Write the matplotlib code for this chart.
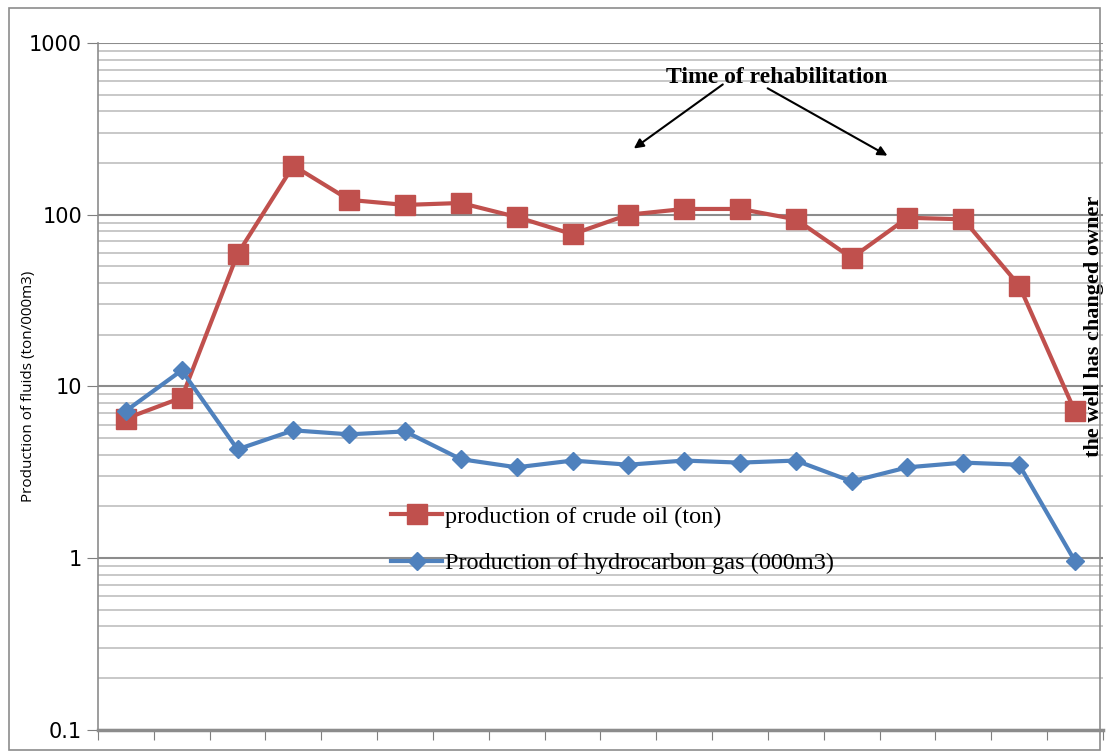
import numpy as np
import matplotlib.pyplot as plt
from matplotlib.patches import Rectangle
from matplotlib.ticker import LogLocator, NullFormatter, FixedLocator

# (18 periods, log scale)
periods = list(range(1, 19))
crude_oil = [6.5, 8.6, 59, 193, 122, 114, 117, 97, 77, 100, 108, 108, 94, 56, 96, 94, 38.7, 7.15]
hc_gas = [7.2, 12.4, 4.3, 5.55, 5.26, 5.47, 3.77, 3.38, 3.7, 3.5, 3.7, 3.6, 3.7, 2.8, 3.38, 3.6, 3.5, 0.96]
ytick_vals = [0.1, 1, 10, 100, 1000]
ytick_labels = ['0.1', '1', '10', '100', '1000']

red = '#C0504D'
blue = '#4F81BD'

fig = plt.figure(figsize=(11.08, 7.54), dpi=100)
ax = fig.add_axes([0.0884, 0.032, 0.907, 0.911])

# outer frame around the whole chart
fig.patches.append(Rectangle((0.008, 0.005), 0.985, 0.985, transform=fig.transFigure,
                             fill=False, edgecolor='#8c8c8c', linewidth=1.2))

x = np.arange(len(periods))
ax.plot(x, crude_oil, color=red, linewidth=3, marker='s', markersize=14,
        label='production of crude oil (ton)', zorder=3)
ax.plot(x, hc_gas, color=blue, linewidth=3, marker='D', markersize=9,
        label='Production of hydrocarbon gas (000m3)', zorder=3)

ax.set_yscale('log')
ax.set_ylim(0.1, 1000)
ax.set_xlim(-0.5, len(periods) - 0.5)
ax.yaxis.set_major_locator(FixedLocator(ytick_vals))
ax.set_yticklabels(ytick_labels, fontsize=15, family='DejaVu Sans')
ax.yaxis.set_minor_locator(LogLocator(base=10, subs=np.arange(2, 10)))
ax.yaxis.set_minor_formatter(NullFormatter())
ax.tick_params(axis='y', which='major', length=8, color='#7f7f7f', direction='out')
ax.tick_params(axis='y', which='minor', length=0)
ax.set_xticks(np.arange(-0.5, len(periods), 1.0))
ax.set_xticklabels([])
ax.tick_params(axis='x', length=7, color='#7f7f7f', direction='out')

ax.grid(True, which='major', axis='y', color='#8c8c8c', linewidth=1.5)
ax.grid(True, which='minor', axis='y', color='#bfbfbf', linewidth=1.2)
ax.set_axisbelow(True)

for side in ['top', 'right']:
    ax.spines[side].set_visible(False)
ax.spines['left'].set_color('#8c8c8c')
ax.spines['bottom'].set_color('#8c8c8c')
ax.spines['bottom'].set_linewidth(2.5)
ax.spines['left'].set_linewidth(1.2)

ax.set_ylabel('Production of fluids (ton/000m3)', fontsize=11, family='Open Sans')
ax.yaxis.set_label_coords(-0.062, 0.5)

leg = ax.legend(loc='upper left', bbox_to_anchor=(0.27, 0.358), frameon=False,
                prop={'family': 'Liberation Serif', 'size': 17.5},
                handlelength=2.1, handletextpad=0.1, labelspacing=1.0)

ax.text(0.675, 0.95, 'Time of rehabilitation', transform=ax.transAxes,
        ha='center', va='center', fontsize=17, fontweight='bold', family='Liberation Serif')
ax.annotate('', xy=(0.531, 0.844), xytext=(0.624, 0.942), xycoords='axes fraction',
            arrowprops=dict(arrowstyle='-|>', color='black', lw=1.5, mutation_scale=14))
ax.annotate('', xy=(0.788, 0.834), xytext=(0.664, 0.936), xycoords='axes fraction',
            arrowprops=dict(arrowstyle='-|>', color='black', lw=1.5, mutation_scale=14))

ax.text(0.9915, 0.587, 'the well has changed owner', transform=ax.transAxes,
        rotation=90, ha='center', va='center', fontsize=16, fontweight='bold',
        family='Liberation Serif')

fig.savefig('out.png', dpi=100)
